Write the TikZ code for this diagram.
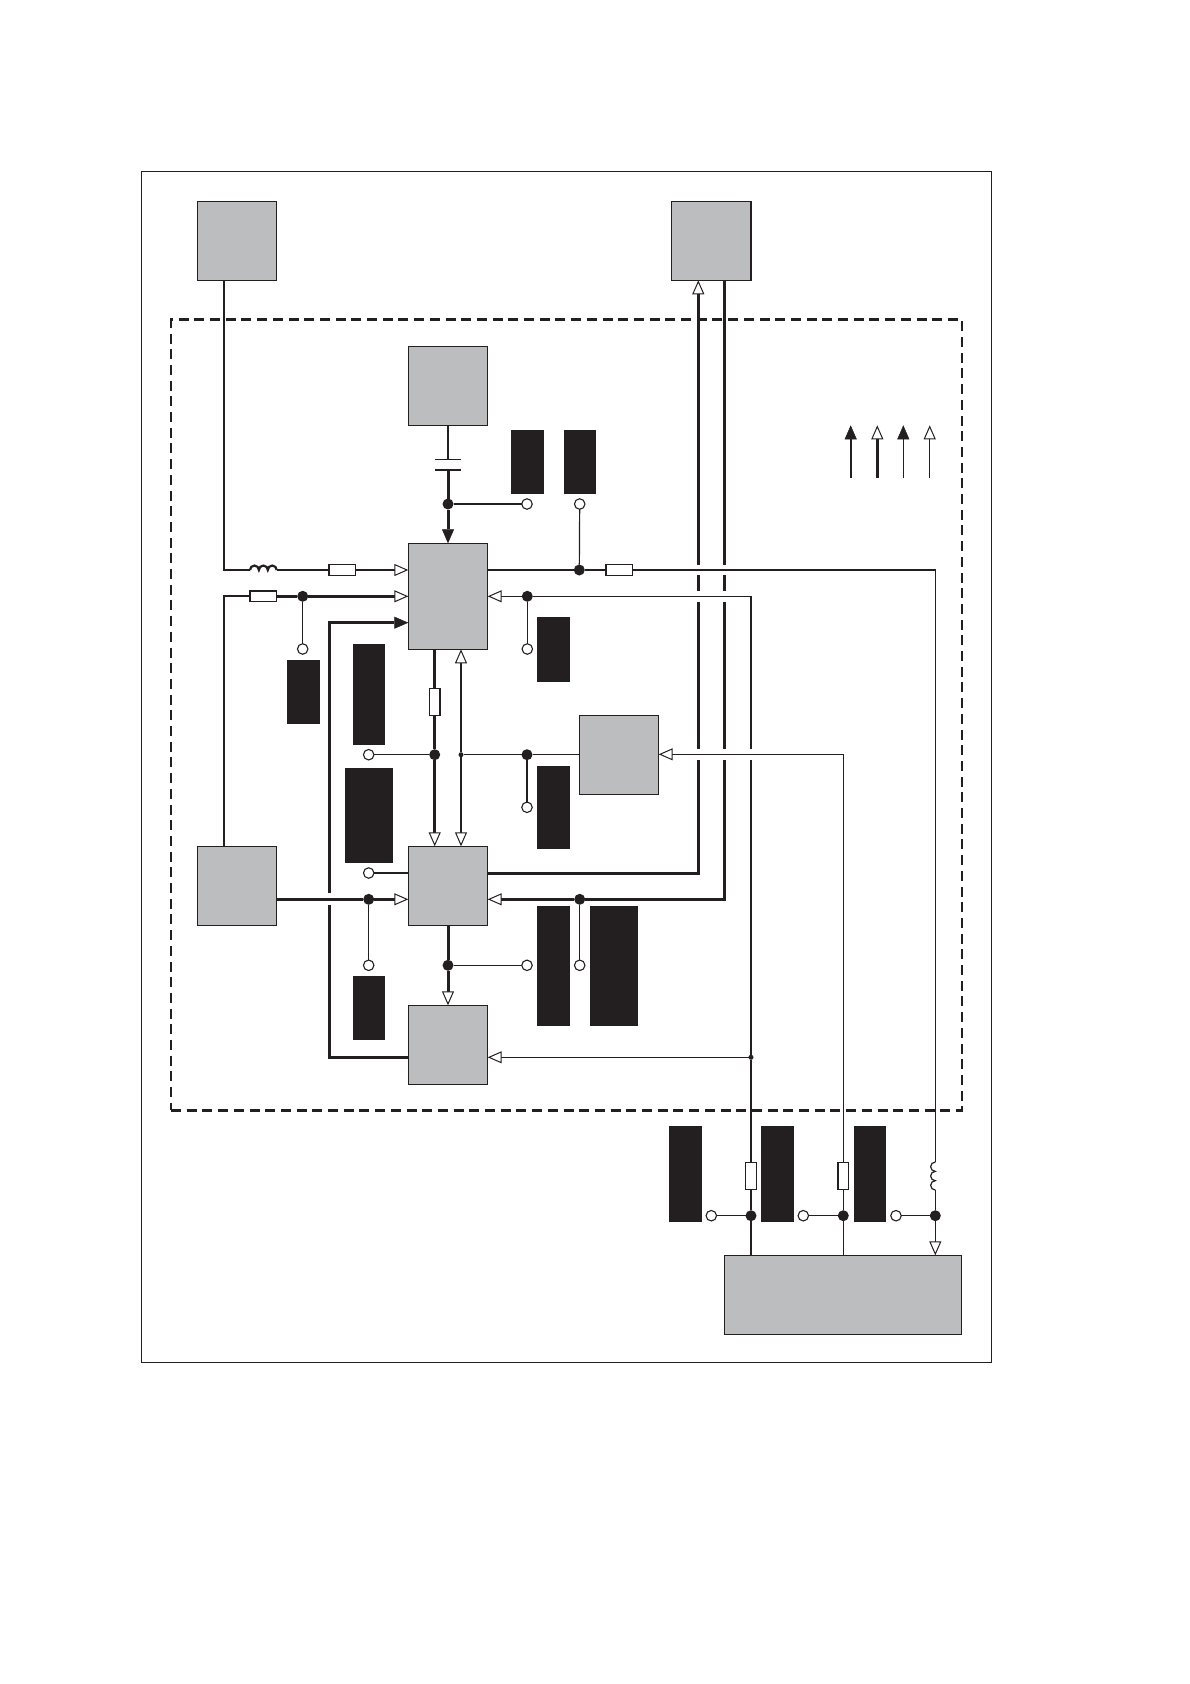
\documentclass[tikz,border=0pt]{standalone}
\usepackage{tikz}
\usetikzlibrary{arrows.meta,positioning}
\definecolor{noir}{HTML}{231F20}
\definecolor{grisbloc}{HTML}{BBBDBF}
\tikzset{
  bloc/.style={draw=noir,line width=1.2pt,fill=grisbloc,inner sep=0pt,outer sep=0pt,minimum width=79.4pt,minimum height=79pt},
  masque/.style={fill=noir,inner sep=0pt,outer sep=0pt},
  resist/.style={draw=noir,line width=1.4pt,fill=white,inner sep=0pt,outer sep=0pt,minimum width=26.7pt,minimum height=10.8pt},
  resistv/.style={resist,minimum width=10.8pt,minimum height=27pt},
  pastille/.style={circle,fill=noir,inner sep=0pt,outer sep=0pt,minimum size=11pt},
  rond/.style={circle,draw=noir,line width=1.1pt,fill=white,inner sep=0pt,outer sep=0pt,minimum size=10.5pt},
  petitpoint/.style={circle,fill=noir,inner sep=0pt,outer sep=0pt,minimum size=5pt},
  plaque/.style={fill=noir,inner sep=0pt,outer sep=0pt,minimum width=26pt},
  fin/.style={line width=1.2pt,color=noir},
  moyen/.style={line width=2.2pt,color=noir},
  gros/.style={line width=3pt,color=noir},
  pleine/.style={-{Triangle[length=14pt,width=12pt,fill=noir,line width=.5pt]}},
  ouverte/.style={-{Triangle[length=14pt,width=12pt,fill=white,line width=1pt]}},
}
\begin{document}
\begin{tikzpicture}[x=1pt,y=-1pt]
  \useasboundingbox (0,0) rectangle (1190,1684);
  \node[draw=noir,line width=1.2pt,inner sep=0pt,minimum width=850pt,minimum height=1191pt] (cadre) at (566.3,766.8) {};
  \node[draw=noir,line width=2.8pt,dash pattern=on 10pt off 5.7pt,inner sep=0pt,minimum width=791pt,minimum height=790.6pt] (zone) at (566.5,715) {};

  \node[bloc] (bA) at (237,240.8) {};
  \node[bloc] (bS) at (711.3,240.8) {};
  \node[bloc] (bC) at (448,385.8) {};
  \node[bloc,minimum height=106pt] (bD) at (448,596.3) {};
  \node[bloc] (bG) at (619,754.8) {};
  \node[bloc] (bB) at (237,885.8) {};
  \node[bloc] (bE) at (448,885.8) {};
  \node[bloc] (bF) at (448,1044.8) {};
  \node[bloc,minimum width=237.4pt] (bH) at (843,1294.8) {};

  \node[masque,minimum width=33pt,minimum height=63.7pt] (m1) at (527.5,461.9) {};
  \node[masque,minimum width=32pt,minimum height=63.7pt] (m2) at (580,461.9) {};
  \node[masque,minimum width=33pt,minimum height=64.7pt] (m3) at (553.5,649.4) {};
  \node[masque,minimum width=33pt,minimum height=64pt] (m4) at (303.5,692) {};
  \node[masque,minimum width=32pt,minimum height=100.7pt] (m5) at (369,694.4) {};
  \node[masque,minimum width=48pt,minimum height=94.7pt] (m6) at (369,815.4) {};
  \node[masque,minimum width=33pt,minimum height=83pt] (m7) at (553.5,807.5) {};
  \node[masque,minimum width=33pt,minimum height=120pt] (m8) at (553.5,966) {};
  \node[masque,minimum width=48pt,minimum height=120pt] (m9) at (614,966) {};
  \node[masque,minimum width=32pt,minimum height=64pt] (m10) at (369,1008) {};
  \node[masque,minimum width=33pt,minimum height=96pt] (m11) at (685.5,1174) {};
  \node[masque,minimum width=33pt,minimum height=96pt] (m12) at (777.5,1174) {};
  \node[masque,minimum width=32pt,minimum height=96pt] (m13) at (870,1174) {};

  \node[resist] (r1) at (342.3,570) {};
  \node[resist] (r2) at (263.3,596.3) {};
  \node[resist] (r3) at (619.2,570) {};
  \node[resistv] (r4) at (434.7,702) {};
  \node[resistv] (r5) at (751,1176) {};
  \node[resistv] (r6) at (843.3,1176) {};

  \node[plaque,minimum height=1.2pt] (plH) at (448,459.3) {};
  \node[plaque,minimum height=2pt] (plB) at (448,470) {};

  \node[pastille] (pC) at (448,504) {};
  \node[pastille] (pS) at (579.3,570) {};
  \node[pastille] (pB) at (302.7,596.3) {};
  \node[pastille] (pD) at (527.3,596.3) {};
  \node[pastille] (pM) at (434.7,754.7) {};
  \node[pastille] (pN) at (527,754.7) {};
  \node[pastille] (pO) at (368.7,899.3) {};
  \node[pastille] (pE) at (579.7,899.3) {};
  \node[pastille] (pF) at (448,965.3) {};
  \node[pastille] (pU) at (751,1215.7) {};
  \node[pastille] (pV) at (843.3,1215.7) {};
  \node[pastille] (pW) at (935.3,1215.7) {};
  \node[petitpoint] (pm) at (461,754.7) {};
  \node[petitpoint] (pj) at (751,1057.3) {};

  \node[rond] (oC) at (527,504) {};
  \node[rond] (oS) at (579.7,504) {};
  \node[rond] (oB) at (302.7,649) {};
  \node[rond] (oD) at (527.3,649) {};
  \node[rond] (oM) at (368.7,754.7) {};
  \node[rond] (oN) at (527,807.3) {};
  \node[rond] (oE) at (368.7,873) {};
  \node[rond] (oO) at (368.7,965.3) {};
  \node[rond] (oF) at (527,965.3) {};
  \node[rond] (oG) at (579.7,965.3) {};
  \node[rond] (oU) at (711.3,1215.7) {};
  \node[rond] (oV) at (803.3,1215.7) {};
  \node[rond] (oW) at (896,1215.7) {};

  \coordinate (coudeA) at (224,570);
  \coordinate (coudeB) at (224,596.3);
  \coordinate (bobG) at (250,570);
  \coordinate (bobD) at (276.7,570);
  \coordinate (coudeD) at (935.3,570);
  \coordinate (bobH) at (935.3,1162);
  \coordinate (bobB) at (935.3,1190);
  \coordinate (retH) at (329.3,622.7);
  \coordinate (retB) at (329.3,1057.3);
  \coordinate (coupH) at (329.3,893);
  \coordinate (coupB) at (329.3,905);
  \coordinate (sortE) at (698.3,873.3);
  \coordinate (coudeG) at (843.3,754.3);
  \coordinate (cb) at (751,596.3);
  \coordinate (c5) at (751,749.3);
  \coordinate (c6) at (751,760);
  \foreach \v/\x in {a/698.3,b/724.3} {
    \coordinate (\v1) at (\x,565);
    \coordinate (\v2) at (\x,575);
    \coordinate (\v3) at (\x,591);
    \coordinate (\v4) at (\x,601.7);
    \coordinate (\v5) at (\x,749.3);
    \coordinate (\v6) at (\x,760);
    \draw[gros] (\v2)--(\v3);
    \draw[gros] (\v4)--(\v5);
  }

  \draw[moyen] (coudeA |- bA.south)--(coudeA)--(bobG);
  \draw[moyen] (bobG) arc[start angle=180,end angle=0,radius=4.45pt] arc[start angle=180,end angle=0,radius=4.45pt] arc[start angle=180,end angle=0,radius=4.45pt];
  \draw[moyen] (bobD)--(r1);
  \draw[moyen,ouverte] (r1)--(r1 -| bD.west);

  \draw[moyen] (coudeB |- bB.north)--(coudeB)--(r2);
  \draw[gros] (r2)--(pB);
  \draw[gros,ouverte] (pB)--(pB -| bD.west);
  \draw[fin] (pB)--(oB);

  \draw[moyen,pleine,line width=2.6pt] (coupH)--(retH)--(retH -| bD.west);
  \draw[line width=2.6pt,color=noir] (retB -| bF.west)--(retB)--(coupB);

  \draw[moyen] (bC.south)--(plH);
  \draw[gros] (plB)--(pC);
  \draw[gros,pleine] (pC)--(bD.north);
  \draw[fin] (pC)--(oC);

  \draw[fin] (pS -| bD.east)--(pS);
  \draw[fin] (pS)--(oS);
  \draw[fin] (pS)--(r3);
  \draw[fin] (r3)--(coudeD)--(bobH);
  \draw[fin] (bobH) arc[start angle=90,end angle=270,radius=4.67pt] arc[start angle=90,end angle=270,radius=4.67pt] arc[start angle=90,end angle=270,radius=4.67pt];
  \draw[fin] (bobB)--(pW);
  \draw[fin,ouverte] (pW)--(pW |- bH.north);
  \draw[fin] (pW)--(oW);

  \draw[fin] (cb)--(pD);
  \draw[fin,ouverte] (pD)--(pD -| bD.east);
  \draw[fin] (pD)--(oD);
  \draw[moyen] (cb)--(c5);
  \draw[moyen] (c6)--(pj);
  \draw[moyen] (pj)--(r5);
  \draw[moyen] (r5)--(pU);
  \draw[fin] (pU)--(pU |- bH.north);
  \draw[fin] (pU)--(oU);
  \draw[fin,ouverte] (pj)--(pj -| bF.east);

  \draw[fin,ouverte] (coudeG)--(coudeG -| bG.east);
  \draw[fin] (coudeG)--(r6);
  \draw[fin] (r6)--(pV);
  \draw[fin] (pV)--(pV |- bH.north);
  \draw[fin] (pV)--(oV);

  \draw[line width=2.6pt,color=noir] (r4 |- bD.south)--(r4);
  \draw[line width=2.6pt,color=noir] (r4)--(pM);
  \draw[line width=2.6pt,color=noir,ouverte] (pM)--(pM |- bE.north);
  \draw[fin] (pM)--(oM);
  \draw[fin,ouverte] (pm)--(pm |- bD.south);
  \draw[fin,ouverte] (pm)--(pm |- bE.north);
  \draw[fin] (pm)--(pN);
  \draw[fin] (pN)--(pN -| bG.west);
  \draw[fin] (pN)--(oN);

  \draw[fin] (oE)--(oE -| bE.west);
  \draw[gros] (pO -| bB.east)--(pO);
  \draw[gros,ouverte] (pO)--(pO -| bE.west);
  \draw[fin] (pO)--(oO);

  \draw[gros] (bE.south)--(pF);
  \draw[gros,ouverte] (pF)--(bF.north);
  \draw[fin] (pF)--(oF);
  \draw[fin] (pE)--(oG);

  \draw[gros,ouverte] (a1)--(a1 |- bS.south);
  \draw[gros] (b1)--(b1 |- bS.south);
  \draw[gros] (sortE -| bE.east)--(sortE)--(a6);
  \draw[gros] (b6)--(b6 |- pE)--(pE);
  \draw[gros,ouverte] (pE)--(pE -| bE.east);

  \coordinate (l1b) at (850.7,477.7);
  \coordinate (l1h) at (850.7,425.3);
  \coordinate (l2b) at (877.3,477.7);
  \coordinate (l2h) at (877.3,425.3);
  \coordinate (l3b) at (903.3,477.7);
  \coordinate (l3h) at (903.3,425.3);
  \coordinate (l4b) at (929.7,477.7);
  \coordinate (l4h) at (929.7,425.3);
  \draw[moyen,pleine] (l1b)--(l1h);
  \draw[gros,ouverte] (l2b)--(l2h);
  \draw[fin,pleine] (l3b)--(l3h);
  \draw[fin,ouverte] (l4b)--(l4h);
\end{tikzpicture}
\end{document}
